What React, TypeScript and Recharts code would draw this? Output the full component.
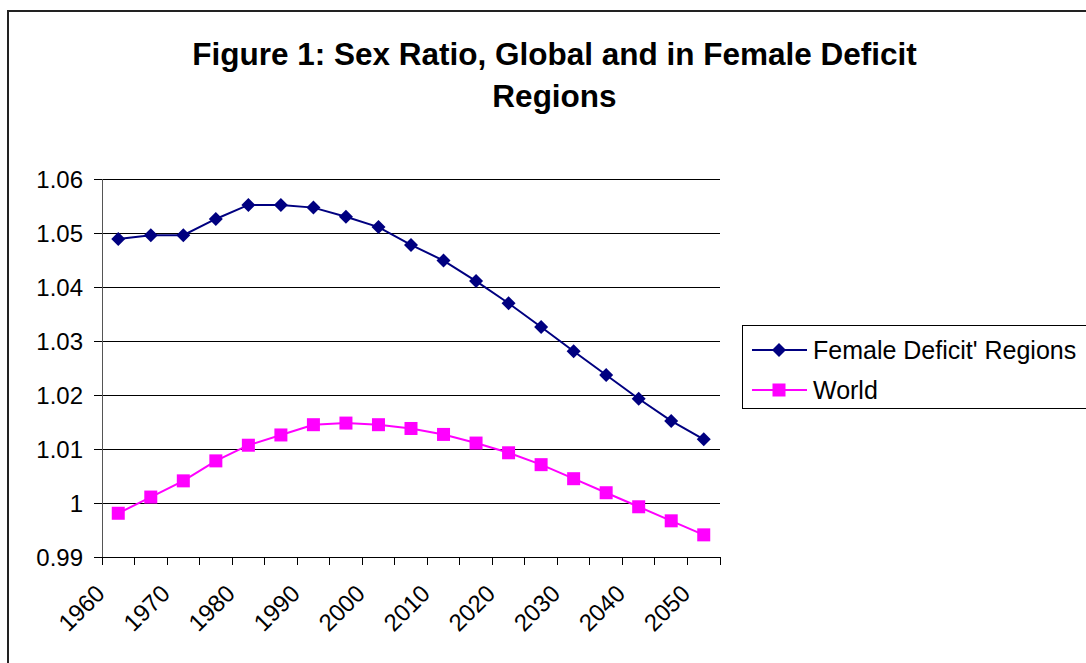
import { LineChart, Line, XAxis, YAxis, CartesianGrid, Legend } from 'recharts';

const years = [1960, 1965, 1970, 1975, 1980, 1985, 1990, 1995, 2000, 2005, 2010, 2015, 2020, 2025, 2030, 2035, 2040, 2045, 2050];
const femaleDeficit = [1.0489, 1.0496, 1.0496, 1.0526, 1.0552, 1.0552, 1.0547, 1.053, 1.0511, 1.0478, 1.0449, 1.0411, 1.037, 1.0326, 1.0281, 1.0237, 1.0193, 1.0152, 1.0118];
const world = [0.9981, 1.0011, 1.0041, 1.0078, 1.0107, 1.0126, 1.0145, 1.0148, 1.0145, 1.0138, 1.0127, 1.0111, 1.0093, 1.0071, 1.0045, 1.0019, 0.9993, 0.9967, 0.9941];
const yTicks = [0.99, 1, 1.01, 1.02, 1.03, 1.04, 1.05, 1.06];
const xLabels = [1960, 1970, 1980, 1990, 2000, 2010, 2020, 2030, 2040, 2050];

const FONT = '"Liberation Sans", Arial, sans-serif';
const NAVY = '#000080';
const PINK = '#FF00FF';

// Excel puts the points between tick marks, so tick marks sit on the category edges
const boundaries = years.map((y) => y - 2.5).concat(years[years.length - 1] + 2.5);
const domain: [number, number] = [boundaries[0], boundaries[boundaries.length - 1]];
const xTicks = [...boundaries, ...xLabels].sort((a, b) => a - b);

const data = years.map((year, i) => ({ year, fdr: femaleDeficit[i], world: world[i] }));

const Diamond = (props: any) => {
    const { cx, cy, index } = props;
    if (cx == null || cy == null) return <g key={`d-${index}`} />;
    const r = 7;
    return <path key={`d-${index}`} d={`M${cx},${cy - r}L${cx + r},${cy}L${cx},${cy + r}L${cx - r},${cy}Z`} fill={NAVY} />;
};

const Square = (props: any) => {
    const { cx, cy, index } = props;
    if (cx == null || cy == null) return <g key={`s-${index}`} />;
    const h = 6.5;
    return <rect key={`s-${index}`} x={cx - h} y={cy - h} width={h * 2} height={h * 2} fill={PINK} />;
};

// edge values get a tick mark, year values get a rotated label
const YearTick = (props: any) => {
    const { x, y, payload } = props;
    if (!xLabels.includes(payload.value)) {
        return <line x1={x} y1={y} x2={x} y2={y + 8} stroke="#000" strokeWidth={1} shapeRendering="crispEdges" />;
    }
    return (
        <g transform={`translate(${x},${y})`}>
            <text x={-12} y={38} textAnchor="end" fontSize={24} fill="#000" fontFamily={FONT} transform="rotate(-45, -12, 38)">
                {payload.value}
            </text>
        </g>
    );
};

const LegendBox = () => (
    <div style={{ border: '1.5px solid #000', width: 400, height: 84, boxSizing: 'border-box', fontFamily: FONT, fontSize: 25, color: '#000', position: 'relative' }}>
        {[
            { label: "Female Deficit' Regions", color: NAVY, shape: 'diamond' },
            { label: 'World', color: PINK, shape: 'square' },
        ].map((item, i) => (
            <div key={item.label} style={{ position: 'absolute', left: 0, top: 4 + i * 40, height: 40, display: 'flex', alignItems: 'center' }}>
                <svg width={70} height={40} style={{ display: 'block' }}>
                    <line x1={9} y1={20} x2={64} y2={20} stroke={item.color} strokeWidth={2} />
                    {item.shape === 'diamond'
                        ? <path d="M36,13L43,20L36,27L29,20Z" fill={item.color} />
                        : <rect x={29.5} y={13.5} width={13} height={13} fill={item.color} />}
                </svg>
                <span style={{ whiteSpace: 'nowrap' }}>{item.label}</span>
            </div>
        ))}
    </div>
);

export default function App() {
    return (
        <div style={{ position: 'absolute', left: 0, top: 0, width: 1086, height: 663, overflow: 'hidden', background: '#fff' }}>
            <div style={{ position: 'absolute', left: 7, top: 10, width: 2000, height: 2000, borderTop: '2px solid #222', borderLeft: '2px solid #222' }} />
            <div style={{ position: 'absolute', left: 0, top: 33, width: 1109, textAlign: 'center', fontFamily: FONT, fontWeight: 'bold', fontSize: 31.5, lineHeight: '42px', color: '#000' }}>
                Figure 1: Sex Ratio, Global and in Female Deficit
                <br />
                Regions
            </div>
            <div style={{ position: 'absolute', left: 0, top: 0 }}>
                <LineChart width={1086} height={663} data={data} margin={{ top: 179, right: 366, bottom: 8, left: 8 }}>
                    <CartesianGrid horizontal vertical={false} stroke="#000" strokeWidth={1} shapeRendering="crispEdges" />
                    <XAxis
                        dataKey="year"
                        type="number"
                        domain={domain}
                        ticks={xTicks}
                        interval={0}
                        height={98}
                        axisLine={{ stroke: '#000', shapeRendering: 'crispEdges' }}
                        tickLine={false}
                        tickSize={0}
                        tickMargin={0}
                        tick={<YearTick />}
                    />
                    <YAxis
                        domain={[0.99, 1.06]}
                        ticks={yTicks}
                        width={94}
                        interval={0}
                        tickSize={8}
                        tickMargin={11}
                        axisLine={{ stroke: '#555', shapeRendering: 'crispEdges' }}
                        tickLine={{ stroke: '#000', shapeRendering: 'crispEdges' }}
                        tickFormatter={(v: number) => String(Number(v.toFixed(2)))}
                        tick={{ fontSize: 24, fill: '#000', fontFamily: FONT }}
                    />
                    <Legend
                        layout="vertical"
                        align="center"
                        verticalAlign="middle"
                        content={<LegendBox />}
                        wrapperStyle={{ left: 742, top: 325, width: 400, height: 84 }}
                    />
                    <Line type="linear" dataKey="fdr" name="Female Deficit' Regions" stroke={NAVY} strokeWidth={2} dot={Diamond} isAnimationActive={false} />
                    <Line type="linear" dataKey="world" name="World" stroke={PINK} strokeWidth={2} dot={Square} isAnimationActive={false} />
                </LineChart>
            </div>
        </div>
    );
}
